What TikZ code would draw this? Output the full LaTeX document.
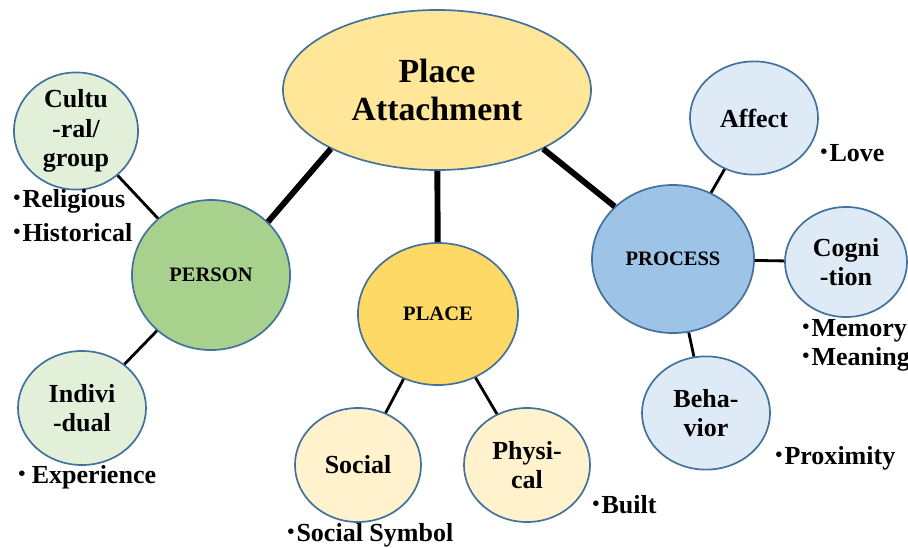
\documentclass[tikz,border=0pt]{standalone}
\usepackage{fontspec}
\setmainfont{Liberation Serif}
\usetikzlibrary{shapes.geometric, positioning}

\definecolor{edgeblue}{HTML}{41719C}
\definecolor{rootfill}{HTML}{FFE699}
\definecolor{personfill}{HTML}{A9D18E}
\definecolor{personleaf}{HTML}{E2F0D9}
\definecolor{placefill}{HTML}{FFD966}
\definecolor{placeleaf}{HTML}{FFF2CC}
\definecolor{processfill}{HTML}{9DC3E6}
\definecolor{processleaf}{HTML}{DEEBF7}

% small bullet in front of the examples
\newcommand{\bul}{\raisebox{0.12em}{\fontsize{14.5}{14}\selectfont\textbullet}\hspace{0.08em}}

\begin{document}
\begin{tikzpicture}[
    x=0.025cm, y=-0.025cm,
    bubble/.style={ellipse, draw=edgeblue, line width=1.2pt, fill=#1, align=center, inner sep=0pt,
        font=\bfseries\fontsize{18.5}{21}\selectfont},
    bubble/.default=white,
    hub/.style={bubble=#1, font=\bfseries\fontsize{14.6}{17}\selectfont},
    trunk/.style={line width=4.2pt, black},
    spoke/.style={line width=2pt, black},
    note/.style={anchor=west, inner sep=0pt, font=\bfseries\fontsize{18.5}{21}\selectfont}
]
\useasboundingbox (0,0) rectangle (908,547);

% === ROOT ===
\node[bubble=rootfill, minimum width=7.7cm, minimum height=4cm, font=\bfseries\fontsize{24}{27}\selectfont] (attach) at (437, 90) {Place\\Attachment};

% === PERSON branch ===
\node[hub=personfill, minimum width=3.95cm, minimum height=3.75cm] (person) at (211, 275) {PERSON};
\node[bubble=personleaf, minimum width=3.1cm, minimum height=2.8cm] (cultural) at (76, 131) {Cultu\\-ral/\\group};
\node[bubble=personleaf, minimum width=3.2cm, minimum height=2.85cm] (indiv) at (82, 408) {Indivi\\-dual};

% === PLACE branch ===
\node[hub=placefill, minimum width=4cm, minimum height=3.55cm] (place) at (438, 314) {PLACE};
\node[bubble=placeleaf, minimum width=3.15cm, minimum height=2.85cm] (social) at (358, 465) {Social};
\node[bubble=placeleaf, minimum width=3.15cm, minimum height=2.85cm] (physical) at (527, 465) {Physi-\\cal};

% === PROCESS branch ===
\node[hub=processfill, minimum width=4.05cm, minimum height=3.7cm] (process) at (673, 259) {PROCESS};
\node[bubble=processleaf, minimum width=3.2cm, minimum height=2.83cm] (affect) at (754, 118) {Affect};
\node[bubble=processleaf, minimum width=3.05cm, minimum height=2.75cm] (cognition) at (846, 262) {Cogni\\-tion};
\node[bubble=processleaf, minimum width=3.2cm, minimum height=2.83cm] (behavior) at (706, 413) {Beha-\\vior};

% === CONNECTORS ===
\draw[trunk] (attach.209) -- (person.43);
\draw[trunk] (attach) -- (place);
\draw[trunk] (attach.331) -- (process.138);

\draw[spoke] (person) -- (cultural);
\draw[spoke] (person) -- (indiv);
\draw[spoke] (place) -- (social);
\draw[spoke] (place) -- (physical);
\draw[spoke] (process) -- (affect);
\draw[spoke] (process) -- (cognition);
\draw[spoke] (process) -- (behavior);

% === EXAMPLES ===
\node[note] (religious) at (13, 201) {\bul Religious};
\node[note] (historical) at (13, 233) {\bul Historical};
\node[note] (experience) at (18, 477) {\bul\,Experience};
\node[note] (symbol) at (287, 535) {\bul Social Symbol};
\node[note] (built) at (592, 505) {\bul Built};
\node[note] (love) at (820, 153) {\bul Love};
\node[note] (memory) at (802, 331) {\bul Memory};
\node[note] (meaning) at (802, 359) {\bul Meaning};
\node[note] (proximity) at (775, 458) {\bul Proximity};

\end{tikzpicture}
\end{document}
